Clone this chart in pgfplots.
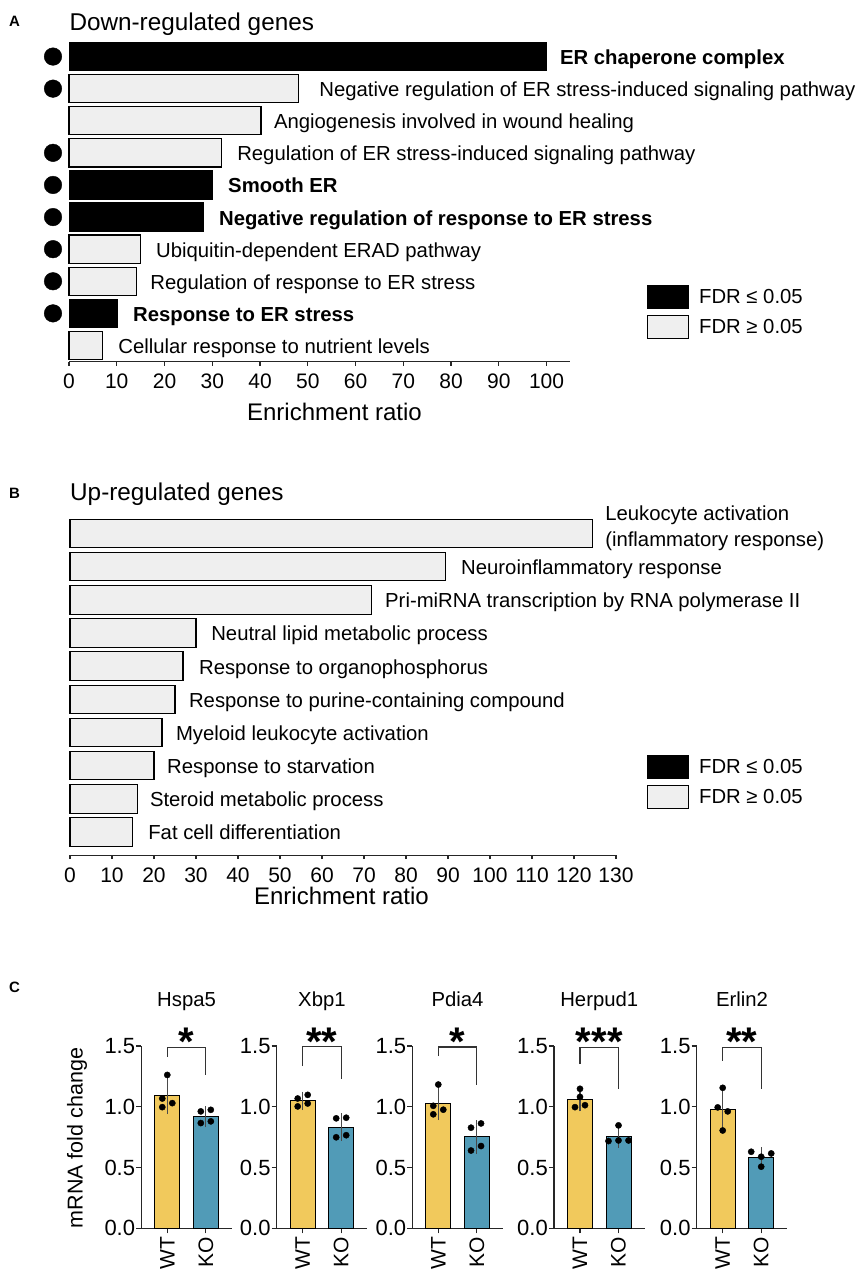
\documentclass[border=0pt]{standalone}
\usepackage{pgfplots}
\pgfplotsset{compat=1.18}
\usepackage{fontspec}
\setmainfont{Liberation Sans}
\definecolor{wtc}{HTML}{F1C95C}
\definecolor{koc}{HTML}{519BB7}
\definecolor{lg}{HTML}{EFEFEF}
\definecolor{eg}{HTML}{4A4A4A}
\newcommand{\lbl}{\fontsize{20.3}{24}\selectfont}
\newcommand{\ttl}{\fontsize{24.3}{28}\selectfont}
\newcommand{\xl}{\fontsize{24}{28}\selectfont}
\newcommand{\tkA}{\fontsize{21}{24}\selectfont}
\newcommand{\tkC}{\fontsize{22}{26}\selectfont}
\newcommand{\tkW}{\fontsize{21}{24}\selectfont}
\newcommand{\stf}{\fontsize{40}{40}\selectfont\bfseries}
\newcommand{\pl}{\fontsize{15}{17}\selectfont\bfseries}
\tikzset{brk/.style={line width=1.1pt, black!80}}
\pgfplotsset{
  legimg/.style={legend image code/.code={\draw[line width=1.1pt,##1] (0pt,-11.5pt) rectangle (41pt,11.5pt);}},
  enr/.style={scale only axis, anchor=south west,
    axis x line*=bottom, axis y line=none, ytick=\empty,
    tick align=outside, major tick length=4pt,
    x axis line style={line width=1.3pt, black!85},
    xtick style={line width=1.1pt, black!85},
    tick label style={font=\tkA}, /pgf/number format/assume math mode=true,
    xticklabel style={anchor=base, yshift=-23pt},
    clip=false, legend cell align=left},
  cax/.style={scale only axis, width=90.5pt, height=182.3pt, anchor=south west,
    xmin=0.325, xmax=2.675, ymin=0, ymax=1.5,
    axis x line*=bottom, axis y line*=left,
    xtick={1,2}, xticklabels={WT,KO}, ytick={0,0.5,1,1.5},
    tick align=outside, major tick length=5pt,
    yticklabel style={/pgf/number format/fixed, /pgf/number format/fixed zerofill, /pgf/number format/precision=1, inner sep=1pt},
    tick label style={font=\tkC}, /pgf/number format/assume math mode=true,
    xticklabel style={rotate=90, anchor=east, inner sep=3.5pt, font=\tkW},
    axis line style={line width=1.3pt, black!85},
    tick style={line width=1.3pt, black!85},
    clip=false,
    every axis title/.style={at={(0.5,1)}, anchor=base, yshift=39.3pt, font=\lbl}},
  wtbar/.style={ybar, bar shift=0pt, bar width=25pt, fill=wtc, draw=black, line width=1pt},
  kobar/.style={ybar, bar shift=0pt, bar width=25pt, fill=koc, draw=black, line width=1pt},
  ebar/.style={error bars/.cd, y dir=both, y explicit, error bar style={line width=1.1pt, eg}, error mark options={line width=1.1pt, eg, mark size=3.5pt}},
  dots/.style={only marks, mark=*, mark size=3.1pt, black}
}
\begin{document}
\begin{tikzpicture}
\path[use as bounding box] (0pt,0pt) rectangle (858pt,-1271pt);
% ---------------- Panel A
\node[anchor=base west, inner sep=0pt, font=\pl] at (9pt,-27pt) {A};
\node[anchor=base west, inner sep=0pt, font=\ttl] at (69.3pt,-30.7pt) {Down-regulated genes};
\begin{axis}[enr, at={(69pt,-361.5pt)}, width=501.4pt, height=321pt,
  xmin=0, xmax=105, ymin=0.5, ymax=10.5, xtick={0,10,...,100},
  legend style={at={(1.1528,0.2383)}, anchor=north west, draw=none, fill=none, inner sep=0pt, outer sep=0pt, row sep=6pt, nodes={inner sep=0pt, font=\lbl}, /tikz/every odd column/.style={column sep=10pt}}]
\addplot[xbar, bar shift=0pt, bar width=28.3pt, fill=black, draw=black, line width=1pt, forget plot] coordinates {(100,10) (30,6) (28.2,5) (10.2,2)};
\addplot[xbar, bar shift=0pt, bar width=28.3pt, fill=lg, draw=black, line width=1.1pt, forget plot] coordinates {(48,9) (40.2,8) (32,7) (15,4) (14.2,3) (7.1,1)};
\addplot[only marks, mark=*, mark size=8.8pt, black, forget plot] coordinates {(-3.35,10) (-3.35,9) (-3.35,7) (-3.35,6) (-3.35,5) (-3.35,4) (-3.35,3) (-3.35,2)};
\addlegendimage{legimg, fill=black, draw=black}
\addlegendentry{FDR ≤ 0.05}
\addlegendimage{legimg, fill=lg, draw=black}
\addlegendentry{FDR ≥ 0.05}
\begin{scope}[every node/.style={anchor=base west, inner sep=0pt, font=\lbl}]
\node[font=\lbl\bfseries] at (axis cs:102.8,9.75) {ER chaperone complex};
\node at (axis cs:52.4,8.75) {Negative regulation of ER stress-induced signaling pathway};
\node at (axis cs:42.9,7.75) {Angiogenesis involved in wound healing};
\node at (axis cs:35.2,6.75) {Regulation of ER stress-induced signaling pathway};
\node[font=\lbl\bfseries] at (axis cs:33.3,5.75) {Smooth ER};
\node[font=\lbl\bfseries] at (axis cs:31.4,4.75) {Negative regulation of response to ER stress};
\node at (axis cs:18.2,3.75) {Ubiquitin-dependent ERAD pathway};
\node at (axis cs:17.0,2.75) {Regulation of response to ER stress};
\node[font=\lbl\bfseries] at (axis cs:13.4,1.75) {Response to ER stress};
\node at (axis cs:10.3,0.75) {Cellular response to nutrient levels};
\end{scope}
\end{axis}
\node[anchor=base, inner sep=0pt, font=\xl] at (334.5pt,-420.5pt) {Enrichment ratio};
% ---------------- Panel B
\node[anchor=base west, inner sep=0pt, font=\pl] at (9pt,-498pt) {B};
\node[anchor=base west, inner sep=0pt, font=\ttl] at (70pt,-500pt) {Up-regulated genes};
\begin{axis}[enr, at={(70pt,-855.2pt)}, width=546pt, height=338.3pt,
  xmin=0, xmax=130, ymin=0.3, ymax=10.5, xtick={0,10,...,130},
  legend style={at={(1.0568,0.2962)}, anchor=north west, draw=none, fill=none, inner sep=0pt, outer sep=0pt, row sep=6pt, nodes={inner sep=0pt, font=\lbl}, /tikz/every odd column/.style={column sep=10pt}}]
\addplot[xbar, bar shift=0pt, bar width=28.5pt, fill=lg, draw=black, line width=1.1pt, forget plot] coordinates {(124.5,10) (89.5,9) (71.7,8) (30,7) (26.9,6) (25,5) (21.9,4) (20,3) (16,2) (14.8,1)};
\addlegendimage{legimg, fill=black, draw=black}
\addlegendentry{FDR ≤ 0.05}
\addlegendimage{legimg, fill=lg, draw=black}
\addlegendentry{FDR ≥ 0.05}
\begin{scope}[every node/.style={anchor=base west, inner sep=0pt, font=\lbl}]
\node at (axis cs:127.4,10.377) {Leukocyte activation};
\node at (axis cs:127.4,9.593) {(inflammatory response)};
\node at (axis cs:93.1,8.76) {Neuroinflammatory response};
\node at (axis cs:75,7.76) {Pri-miRNA transcription by RNA polymerase II};
\node at (axis cs:33.6,6.76) {Neutral lipid metabolic process};
\node at (axis cs:30.7,5.76) {Response to organophosphorus};
\node at (axis cs:28.3,4.76) {Response to purine-containing compound};
\node at (axis cs:25.2,3.76) {Myeloid leukocyte activation};
\node at (axis cs:23.1,2.76) {Response to starvation};
\node at (axis cs:19.0,1.76) {Steroid metabolic process};
\node at (axis cs:18.6,0.76) {Fat cell differentiation};
\end{scope}
\end{axis}
\node[anchor=base, inner sep=0pt, font=\xl] at (341.5pt,-904pt) {Enrichment ratio};
% ---------------- Panel C
\node[anchor=base west, inner sep=0pt, font=\pl] at (9pt,-992pt) {C};
% Hspa5
\begin{axis}[cax, at={(141.3pt,-1228.3pt)}, title={Hspa5}, ylabel={mRNA fold change},
  every axis y label/.style={at={(axis description cs:-0.7105,0.495)}, rotate=90, anchor=center, font=\fontsize{21.5}{24}\selectfont}]
\addplot[wtbar, ebar] coordinates {(1,1.089) +- (0,0.12)};
\addplot[kobar, ebar] coordinates {(2,0.919) +- (0,0.058)};
\addplot[dots] coordinates {(1,1.262) (0.87,1.068) (1.13,1.030) (0.87,0.997) (1.87,0.962) (2.13,0.975) (2.13,0.880) (1.87,0.866)};
\draw[brk] (axis cs:1,1.41) -- (axis cs:1,1.49) -- (axis cs:2,1.49) -- (axis cs:2,1.26);
\node[anchor=base, inner sep=0pt, font=\stf] at (axis cs:1.5,1.42) {*};
\end{axis}
% Xbp1
\begin{axis}[cax, at={(276.7pt,-1228.3pt)}, title={Xbp1}]
\addplot[wtbar, ebar] coordinates {(1,1.049) +- (0,0.047)};
\addplot[kobar, ebar] coordinates {(2,0.833) +- (0,0.085)};
\addplot[dots] coordinates {(0.87,1.068) (1.13,1.098) (1.13,1.027) (0.87,1.003) (1.87,0.905) (2.13,0.910) (2.13,0.766) (1.87,0.749)};
\draw[brk] (axis cs:1,1.335) -- (axis cs:1,1.496) -- (axis cs:2,1.496) -- (axis cs:2,1.232);
\node[anchor=base, inner sep=0pt, font=\stf] at (axis cs:1.5,1.42) {**};
\end{axis}
% Pdia4
\begin{axis}[cax, at={(412.3pt,-1228.3pt)}, title={Pdia4}]
\addplot[wtbar, ebar] coordinates {(1,1.026) +- (0,0.108)};
\addplot[kobar, ebar] coordinates {(2,0.752) +- (0,0.108)};
\addplot[dots] coordinates {(1,1.183) (0.87,1.008) (1.13,0.976) (0.87,0.938) (1.85,0.828) (2.11,0.863) (2.11,0.677) (1.85,0.640)};
\draw[brk] (axis cs:1,1.417) -- (axis cs:1,1.492) -- (axis cs:2,1.492) -- (axis cs:2,1.183);
\node[anchor=base, inner sep=0pt, font=\stf] at (axis cs:1.5,1.42) {*};
\end{axis}
% Herpud1
\begin{axis}[cax, at={(554pt,-1228.3pt)}, title={Herpud1}]
\addplot[wtbar, ebar] coordinates {(1,1.06) +- (0,0.068)};
\addplot[kobar, ebar] coordinates {(2,0.753) +- (0,0.063)};
\addplot[dots] coordinates {(1,1.148) (1,1.081) (0.87,0.997) (1.13,1.013) (2,0.847) (1.74,0.718) (2,0.723) (2.26,0.723)};
\draw[brk] (axis cs:1,1.352) -- (axis cs:1,1.487) -- (axis cs:2,1.487) -- (axis cs:2,1.148);
\node[anchor=base, inner sep=0pt, font=\stf] at (axis cs:1.5,1.42) {***};
\end{axis}
% Erlin2
\begin{axis}[cax, at={(696.7pt,-1228.3pt)}, title={Erlin2}]
\addplot[wtbar, ebar] coordinates {(1,0.98) +- (0,0.145)};
\addplot[kobar, ebar] coordinates {(2,0.586) +- (0,0.053)};
\addplot[dots] coordinates {(1,1.156) (0.87,0.995) (1.13,0.962) (1,0.805) (1.74,0.630) (2.26,0.616) (2,0.589) (2,0.507)};
\draw[brk] (axis cs:1,1.38) -- (axis cs:1,1.49) -- (axis cs:2,1.49) -- (axis cs:2,1.15);
\node[anchor=base, inner sep=0pt, font=\stf] at (axis cs:1.5,1.42) {**};
\end{axis}
\end{tikzpicture}
\end{document}
